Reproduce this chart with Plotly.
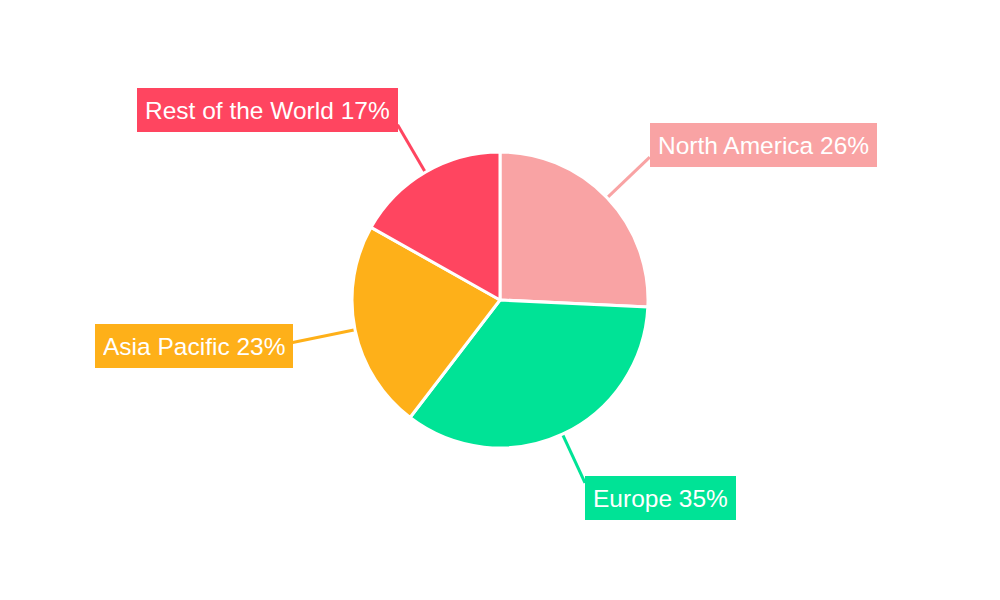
import math
import plotly.graph_objects as go

regions = ["North America", "Europe", "Asia Pacific", "Rest of the World"]
shares = [26, 35, 23, 17]
colors = ["#F9A3A4", "#00E396", "#FEB019", "#FF4560"]

# page body adds an 8px offset; figure coordinates compensate for it
W, H = 1000, 600
CX, CY, R = 492, 292, 148

fig = go.Figure(go.Pie(
    labels=regions,
    values=shares,
    sort=False,
    direction="clockwise",
    rotation=0,
    textinfo="none",
    hoverinfo="label+percent",
    marker=dict(colors=colors, line=dict(color="white", width=3)),
    domain=dict(x=[(CX - R) / W, (CX + R) / W], y=[1 - (CY + R) / H, 1 - (CY - R) / H]),
    showlegend=False,
))

total = sum(shares)
cum = 0
shapes = []
annotations = []
for name, v, c in zip(regions, shares, colors):
    mid = (cum + v / 2) / total * 2 * math.pi
    cum += v
    s, co = math.sin(mid), math.cos(mid)
    lead = 46 + 18 * abs(s)
    x0, y0 = CX + R * s, CY - R * co
    x1, y1 = CX + (R + lead) * s, CY - (R + lead) * co
    shapes.append(dict(type="line", xref="paper", yref="paper",
                       x0=x0 / W, y0=1 - y0 / H, x1=x1 / W, y1=1 - y1 / H,
                       line=dict(color=c, width=3), layer="below"))
    ycenter = y1 - 17 * co
    annotations.append(dict(
        xref="paper", yref="paper",
        x=x1 / W, y=1 - ycenter / H,
        xanchor="left" if s >= 0 else "right", yanchor="middle",
        text=f"{name} {v}%", showarrow=False,
        font=dict(family="Liberation Sans, Arial, sans-serif", size=24.5, color="white"),
        bgcolor=c, borderpad=8, borderwidth=0, height=28,
    ))

fig.update_layout(
    width=W, height=H,
    margin=dict(l=0, r=0, t=0, b=0),
    paper_bgcolor="white", plot_bgcolor="white",
    shapes=shapes, annotations=annotations,
)
fig.write_html("out.html")
